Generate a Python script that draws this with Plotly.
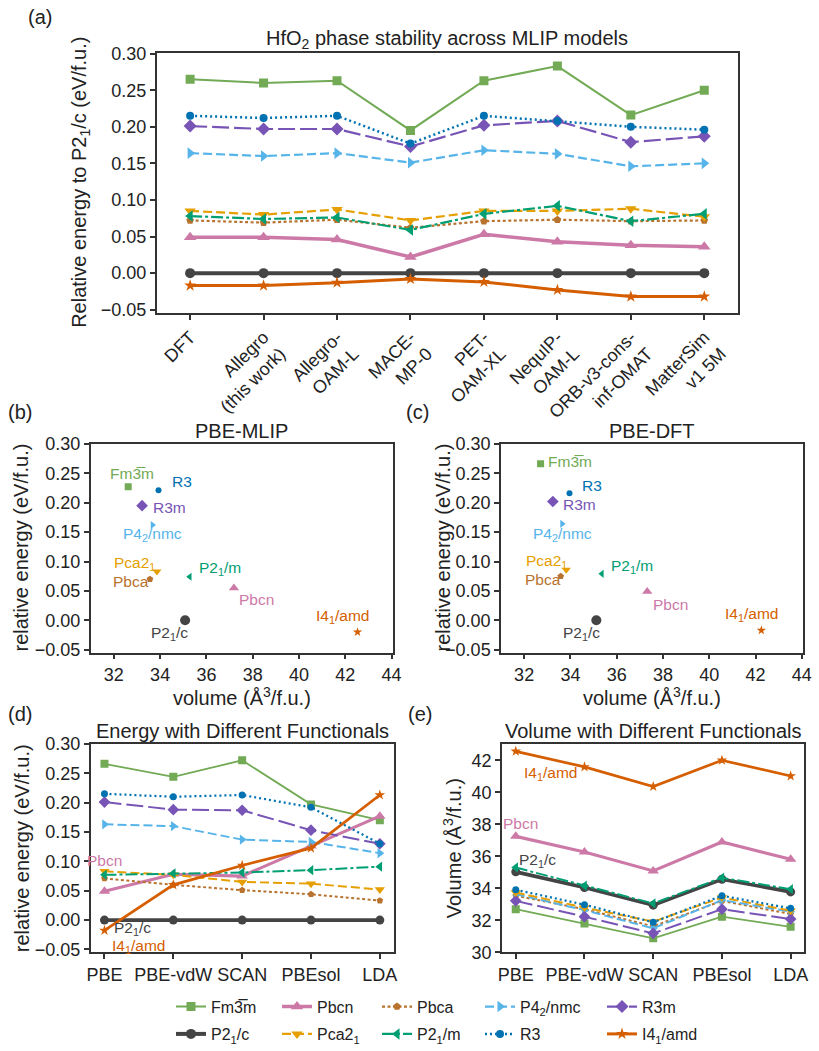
import plotly.graph_objects as go

W, H = 819, 1051
FONT = "Liberation Sans, Arial, sans-serif"

# ---------------- data ----------------
MODELS = ["DFT", "Allegro<br>(this work)", "Allegro-<br>OAM-L", "MACE-<br>MP-0", "PET-<br>OAM-XL",
          "NequIP-<br>OAM-L", "ORB-v3-cons-<br>inf-OMAT", "MatterSim<br>v1 5M"]
FUNCTIONALS = ["PBE", "PBE-vdW", "SCAN", "PBEsol", "LDA"]
PHASES = ["Fm3m", "Pbcn", "Pbca", "P42/nmc", "R3m", "P21/c", "Pca21", "P21/m", "R3", "I41/amd"]

# (a) relative energy per model
A_FM3M = [0.265, 0.260, 0.263, 0.195, 0.263, 0.283, 0.216, 0.250]
A_PBCN = [0.049, 0.049, 0.046, 0.022, 0.053, 0.043, 0.038, 0.036]
A_PBCA = [0.072, 0.069, 0.073, 0.062, 0.071, 0.073, 0.071, 0.072]
A_P42NMC = [0.164, 0.160, 0.164, 0.151, 0.168, 0.163, 0.146, 0.150]
A_R3M = [0.201, 0.197, 0.197, 0.173, 0.202, 0.208, 0.179, 0.187]
A_P21C = [0.0, 0.0, 0.0, 0.0, 0.0, 0.0, 0.0, 0.0]
A_PCA21 = [0.085, 0.080, 0.087, 0.072, 0.085, 0.085, 0.088, 0.077]
A_P21M = [0.078, 0.074, 0.076, 0.059, 0.081, 0.092, 0.071, 0.081]
A_R3 = [0.215, 0.212, 0.215, 0.177, 0.215, 0.208, 0.200, 0.196]
A_I41AMD = [-0.017, -0.017, -0.013, -0.008, -0.012, -0.023, -0.032, -0.032]

# (b) PBE-MLIP, order of PHASES
B_VOL = [32.62, 37.19, 33.56, 33.67, 33.22, 35.08, 33.86, 35.28, 33.93, 42.53]
B_ENERGY = [0.227, 0.055, 0.070, 0.162, 0.195, 0.0, 0.083, 0.074, 0.221, -0.020]

# (c) PBE-DFT, order of PHASES
C_VOL = [32.71, 37.32, 33.58, 33.64, 33.24, 35.12, 33.82, 35.36, 33.96, 42.25]
C_ENERGY = [0.266, 0.049, 0.075, 0.164, 0.202, 0.0, 0.086, 0.079, 0.216, -0.017]

# (d) energy per functional
D_FM3M = [0.266, 0.244, 0.272, 0.197, 0.170]
D_PBCN = [0.049, 0.078, 0.075, 0.126, 0.177]
D_PBCA = [0.071, 0.060, 0.051, 0.044, 0.033]
D_P42NMC = [0.163, 0.160, 0.137, 0.133, 0.114]
D_R3M = [0.201, 0.188, 0.187, 0.153, 0.130]
D_P21C = [0.0, 0.0, 0.0, 0.0, 0.0]
D_PCA21 = [0.083, 0.077, 0.065, 0.062, 0.052]
D_P21M = [0.077, 0.0795, 0.081, 0.085, 0.091]
D_R3 = [0.215, 0.210, 0.213, 0.192, 0.130]
D_I41AMD = [-0.0175, 0.060, 0.093, 0.1225, 0.213]

# (e) volume per functional
E_FM3M = [32.70, 31.81, 30.88, 32.23, 31.60]
E_PBCN = [37.25, 36.27, 35.09, 36.90, 35.82]
E_PBCA = [33.54, 32.70, 31.63, 33.22, 32.40]
E_P42NMC = [33.64, 32.64, 31.50, 33.27, 32.54]
E_R3M = [33.22, 32.23, 31.19, 32.70, 32.08]
E_P21C = [35.03, 34.05, 32.95, 34.57, 33.78]
E_PCA21 = [33.74, 32.80, 31.92, 33.43, 32.60]
E_P21M = [35.30, 34.16, 33.06, 34.66, 33.95]
E_R3 = [33.91, 32.98, 31.88, 33.54, 32.75]
E_I41AMD = [42.56, 41.59, 40.36, 42.00, 41.02]

A_DATA = dict(zip(PHASES, [A_FM3M, A_PBCN, A_PBCA, A_P42NMC, A_R3M, A_P21C, A_PCA21, A_P21M, A_R3, A_I41AMD]))
D_DATA = dict(zip(PHASES, [D_FM3M, D_PBCN, D_PBCA, D_P42NMC, D_R3M, D_P21C, D_PCA21, D_P21M, D_R3, D_I41AMD]))
E_DATA = dict(zip(PHASES, [E_FM3M, E_PBCN, E_PBCA, E_P42NMC, E_R3M, E_P21C, E_PCA21, E_P21M, E_R3, E_I41AMD]))

LABELS = {"Fm3m": "Fm3\u0305m", "Pbcn": "Pbcn", "Pbca": "Pbca", "P42/nmc": "P4<sub>2</sub>/nmc",
          "R3m": "R3m", "P21/c": "P2<sub>1</sub>/c", "Pca21": "Pca2<sub>1</sub>",
          "P21/m": "P2<sub>1</sub>/m", "R3": "R3", "I41/amd": "I4<sub>1</sub>/amd"}

# ---------------- styles ----------------
STYLE = {
    "Fm3m":    dict(color="#72aa55", symbol="square",         dash="solid",            width=2.0, size=9,  ssize=7),
    "Pbcn":    dict(color="#cc79a7", symbol="triangle-up",    dash="solid",            width=3.5, size=11, ssize=9),
    "Pbca":    dict(color="#b8732e", symbol="pentagon",       dash="3px,2.5px",        width=2.2, size=8,  ssize=7),
    "P42/nmc": dict(color="#56b4e9", symbol="triangle-right", dash="9px,4px",          width=2.2, size=10, ssize=7),
    "R3m":     dict(color="#7754b5", symbol="diamond",        dash="17px,5px",         width=2.2, size=10, ssize=9),
    "P21/c":   dict(color="#444444", symbol="circle",         dash="solid",            width=4.0, size=10, ssize=10),
    "Pca21":   dict(color="#e69f00", symbol="triangle-down",  dash="9px,4px",          width=2.2, size=10, ssize=8),
    "P21/m":   dict(color="#009e73", symbol="triangle-left",  dash="12px,3px,3px,3px", width=2.2, size=10, ssize=7),
    "R3":      dict(color="#0072b2", symbol="circle",         dash="2px,3px",          width=2.5, size=8,  ssize=6),
    "I41/amd": dict(color="#d55e00", symbol="star",           dash="solid",            width=3.0, size=9,  ssize=7),
}
# legend grid (column, row) in the reference
LEG_POS = {"Fm3m": (0, 0), "P21/c": (0, 1), "Pbcn": (1, 0), "Pca21": (1, 1), "Pbca": (2, 0),
           "P21/m": (2, 1), "P42/nmc": (3, 0), "R3": (3, 1), "R3m": (4, 0), "I41/amd": (4, 1)}
LEG_TEXT_X = [209, 315, 415, 518, 640]
LEG_ROW_Y = [1006.7, 1035.0]

# label positions in (b), (c) (data units)
B_LAB = {"Fm3m": (32.79, 0.249), "R3": (34.93, 0.236), "R3m": (34.39, 0.191), "P42/nmc": (33.66, 0.1455),
         "Pca21": (32.91, 0.097), "Pbca": (32.76, 0.066), "P21/m": (36.58, 0.0887), "Pbcn": (38.17, 0.035),
         "P21/c": (34.42, -0.0225), "I41/amd": (41.9, 0.0058)}
C_LAB = {"Fm3m": (33.96, 0.2697), "R3": (34.92, 0.2284), "R3m": (34.41, 0.1975), "P42/nmc": (33.64, 0.1467),
         "Pca21": (32.97, 0.0998), "Pbca": (32.8, 0.0689), "P21/m": (36.65, 0.0914), "Pbcn": (38.31, 0.0271),
         "P21/c": (34.48, -0.0225), "I41/amd": (41.84, 0.0096)}


def fx(px):
    return px / W


def fy(py):
    return 1 - py / H


fig = go.Figure()

# ---- (a)
for i, ph in enumerate(PHASES):
    s = STYLE[ph]
    col, row = LEG_POS[ph]
    k = col * 2 + row
    lg = "legend" if k == 0 else "legend%d" % (k + 1)
    fig.add_trace(go.Scatter(
        x=list(range(len(MODELS))), y=A_DATA[ph], mode="lines+markers", name=LABELS[ph],
        line=dict(color=s["color"], width=s["width"], dash=s["dash"]),
        marker=dict(symbol=s["symbol"], size=s["size"], color=s["color"], line=dict(width=0)),
        xaxis="x", yaxis="y", legend=lg, showlegend=True))

# ---- (b), (c)
for vols, ens, ax in [(B_VOL, B_ENERGY, "2"), (C_VOL, C_ENERGY, "3")]:
    for i, ph in enumerate(PHASES):
        s = STYLE[ph]
        fig.add_trace(go.Scatter(
            x=[vols[i]], y=[ens[i]], mode="markers", showlegend=False,
            marker=dict(symbol=s["symbol"], size=s["ssize"], color=s["color"], line=dict(width=0)),
            xaxis="x" + ax, yaxis="y" + ax))

# ---- (d), (e)
for data, ax in [(D_DATA, "4"), (E_DATA, "5")]:
    for ph in PHASES:
        s = STYLE[ph]
        fig.add_trace(go.Scatter(
            x=list(range(len(FUNCTIONALS))), y=data[ph], mode="lines+markers", showlegend=False,
            line=dict(color=s["color"], width=s["width"] * 0.9, dash=s["dash"]),
            marker=dict(symbol=s["symbol"], size=s["size"] - 1, color=s["color"], line=dict(width=0)),
            xaxis="x" + ax, yaxis="y" + ax))

AX = dict(showline=True, linecolor="#333333", linewidth=1.5, mirror=True, ticks="outside",
          ticklen=5, tickwidth=1.5, tickcolor="#333333", showgrid=False, zeroline=False,
          tickfont=dict(family=FONT, size=18, color="#222222"), automargin=False)

lay = dict(
    width=W, height=H, margin=dict(l=0, r=0, t=0, b=0), autosize=False,
    paper_bgcolor="white", plot_bgcolor="white", font=dict(family=FONT, color="#222222"),
    xaxis=dict(AX, domain=[fx(156.7), fx(737.7)], range=[-0.455, 7.455], tickmode="array",
               tickvals=list(range(len(MODELS))), ticktext=MODELS, tickangle=-45, anchor="y"),
    yaxis=dict(AX, domain=[fy(313.3), fy(53.3)], range=[-0.0545, 0.3005], tickmode="linear",
               tick0=0, dtick=0.05, tickformat=".2f", anchor="x"),
    xaxis2=dict(AX, domain=[fx(90.7), fx(392.7)], range=[31, 44.05], tickmode="linear", tick0=32,
                dtick=2, anchor="y2"),
    yaxis2=dict(AX, domain=[fy(653.3), fy(444)], range=[-0.055, 0.3005], tickmode="linear",
                tick0=0, dtick=0.05, tickformat=".2f", anchor="x2"),
    xaxis3=dict(AX, domain=[fx(501), fx(803)], range=[31, 44.05], tickmode="linear", tick0=32,
                dtick=2, anchor="y3"),
    yaxis3=dict(AX, domain=[fy(653.3), fy(444)], range=[-0.055, 0.3005], tickmode="linear",
                tick0=0, dtick=0.05, tickformat=".2f", anchor="x3"),
    xaxis4=dict(AX, domain=[fx(90.7), fx(393.6)], range=[-0.2, 4.2], tickmode="array",
                tickvals=list(range(5)), ticktext=FUNCTIONALS, anchor="y4"),
    yaxis4=dict(AX, domain=[fy(953.3), fy(744.3)], range=[-0.055, 0.3005], tickmode="linear",
                tick0=0, dtick=0.05, tickformat=".2f", anchor="x4"),
    xaxis5=dict(AX, domain=[fx(502), fx(804.4)], range=[-0.2, 4.2], tickmode="array",
                tickvals=list(range(5)), ticktext=FUNCTIONALS, anchor="y5"),
    yaxis5=dict(AX, domain=[fy(953.3), fy(745)], range=[30, 43], tickmode="linear",
                tick0=30, dtick=2, anchor="x5"),
)

# legends (one per entry so that the 5x2 grid matches the reference)
for ph in PHASES:
    col, row = LEG_POS[ph]
    k = col * 2 + row
    name = "legend" if k == 0 else "legend%d" % (k + 1)
    lay[name] = dict(x=fx(LEG_TEXT_X[col] - 38), y=fy(LEG_ROW_Y[row]), xanchor="left", yanchor="middle",
                     xref="paper", yref="paper", bgcolor="rgba(0,0,0,0)", borderwidth=0, itemwidth=30,
                     font=dict(family=FONT, size=16, color="#222222"), orientation="v")

fig.update_layout(**lay)

ann = []


def text(x, y, t, size=20, color="#222222", xref="paper", yref="paper", angle=0, xanchor="center"):
    ann.append(dict(x=x, y=y, text=t, xref=xref, yref=yref, showarrow=False, textangle=angle,
                    xanchor=xanchor, yanchor="middle", font=dict(family=FONT, size=size, color=color)))


# panel letters
text(fx(40), fy(17), "(a)")
text(fx(20), fy(412), "(b)")
text(fx(418), fy(412), "(c)")
text(fx(20), fy(715), "(d)")
text(fx(420), fy(715), "(e)")
# titles
text(fx(447), fy(40), "HfO<sub>2</sub> phase stability across MLIP models")
text(fx(241.7), fy(431), "PBE-MLIP")
text(fx(652), fy(431), "PBE-DFT")
text(fx(242), fy(732), "Energy with Different Functionals")
text(fx(653), fy(732), "Volume with Different Functionals")
# axis titles
text(fx(81), fy(183), "Relative energy to P2<sub>1</sub>/c (eV/f.u.)", angle=-90)
text(fx(21), fy(548), "relative energy (eV/f.u.)", angle=-90)
text(fx(443), fy(548), "relative energy (eV/f.u.)", angle=-90)
text(fx(241.7), fy(697), "volume (Å<sup>3</sup>/f.u.)")
text(fx(652), fy(697), "volume (Å<sup>3</sup>/f.u.)")
text(fx(22), fy(849), "relative energy (eV/f.u.)", angle=-90)
text(fx(452), fy(849), "Volume (Å<sup>3</sup>/f.u.)", angle=-90)

# in-plot labels
LS = 15.5
for labs, ax in [(B_LAB, "2"), (C_LAB, "3")]:
    for ph, (lx, ly) in labs.items():
        text(lx, ly, LABELS[ph], size=LS, color=STYLE[ph]["color"], xref="x" + ax, yref="y" + ax)
text(0.0, 0.102, "Pbcn", size=LS, color=STYLE["Pbcn"]["color"], xref="x4", yref="y4")
text(0.4, -0.0145, "P2<sub>1</sub>/c", size=LS, color=STYLE["P21/c"]["color"], xref="x4", yref="y4")
text(0.49, -0.0445, "I4<sub>1</sub>/amd", size=LS, color=STYLE["I41/amd"]["color"], xref="x4", yref="y4")
text(0.5, 41.17, "I4<sub>1</sub>/amd", size=LS, color=STYLE["I41/amd"]["color"], xref="x5", yref="y5")
text(0.07, 38.04, "Pbcn", size=LS, color=STYLE["Pbcn"]["color"], xref="x5", yref="y5")
text(0.32, 35.71, "P2<sub>1</sub>/c", size=LS, color=STYLE["P21/c"]["color"], xref="x5", yref="y5")

fig.update_layout(annotations=ann)
fig.write_html("out.html")
